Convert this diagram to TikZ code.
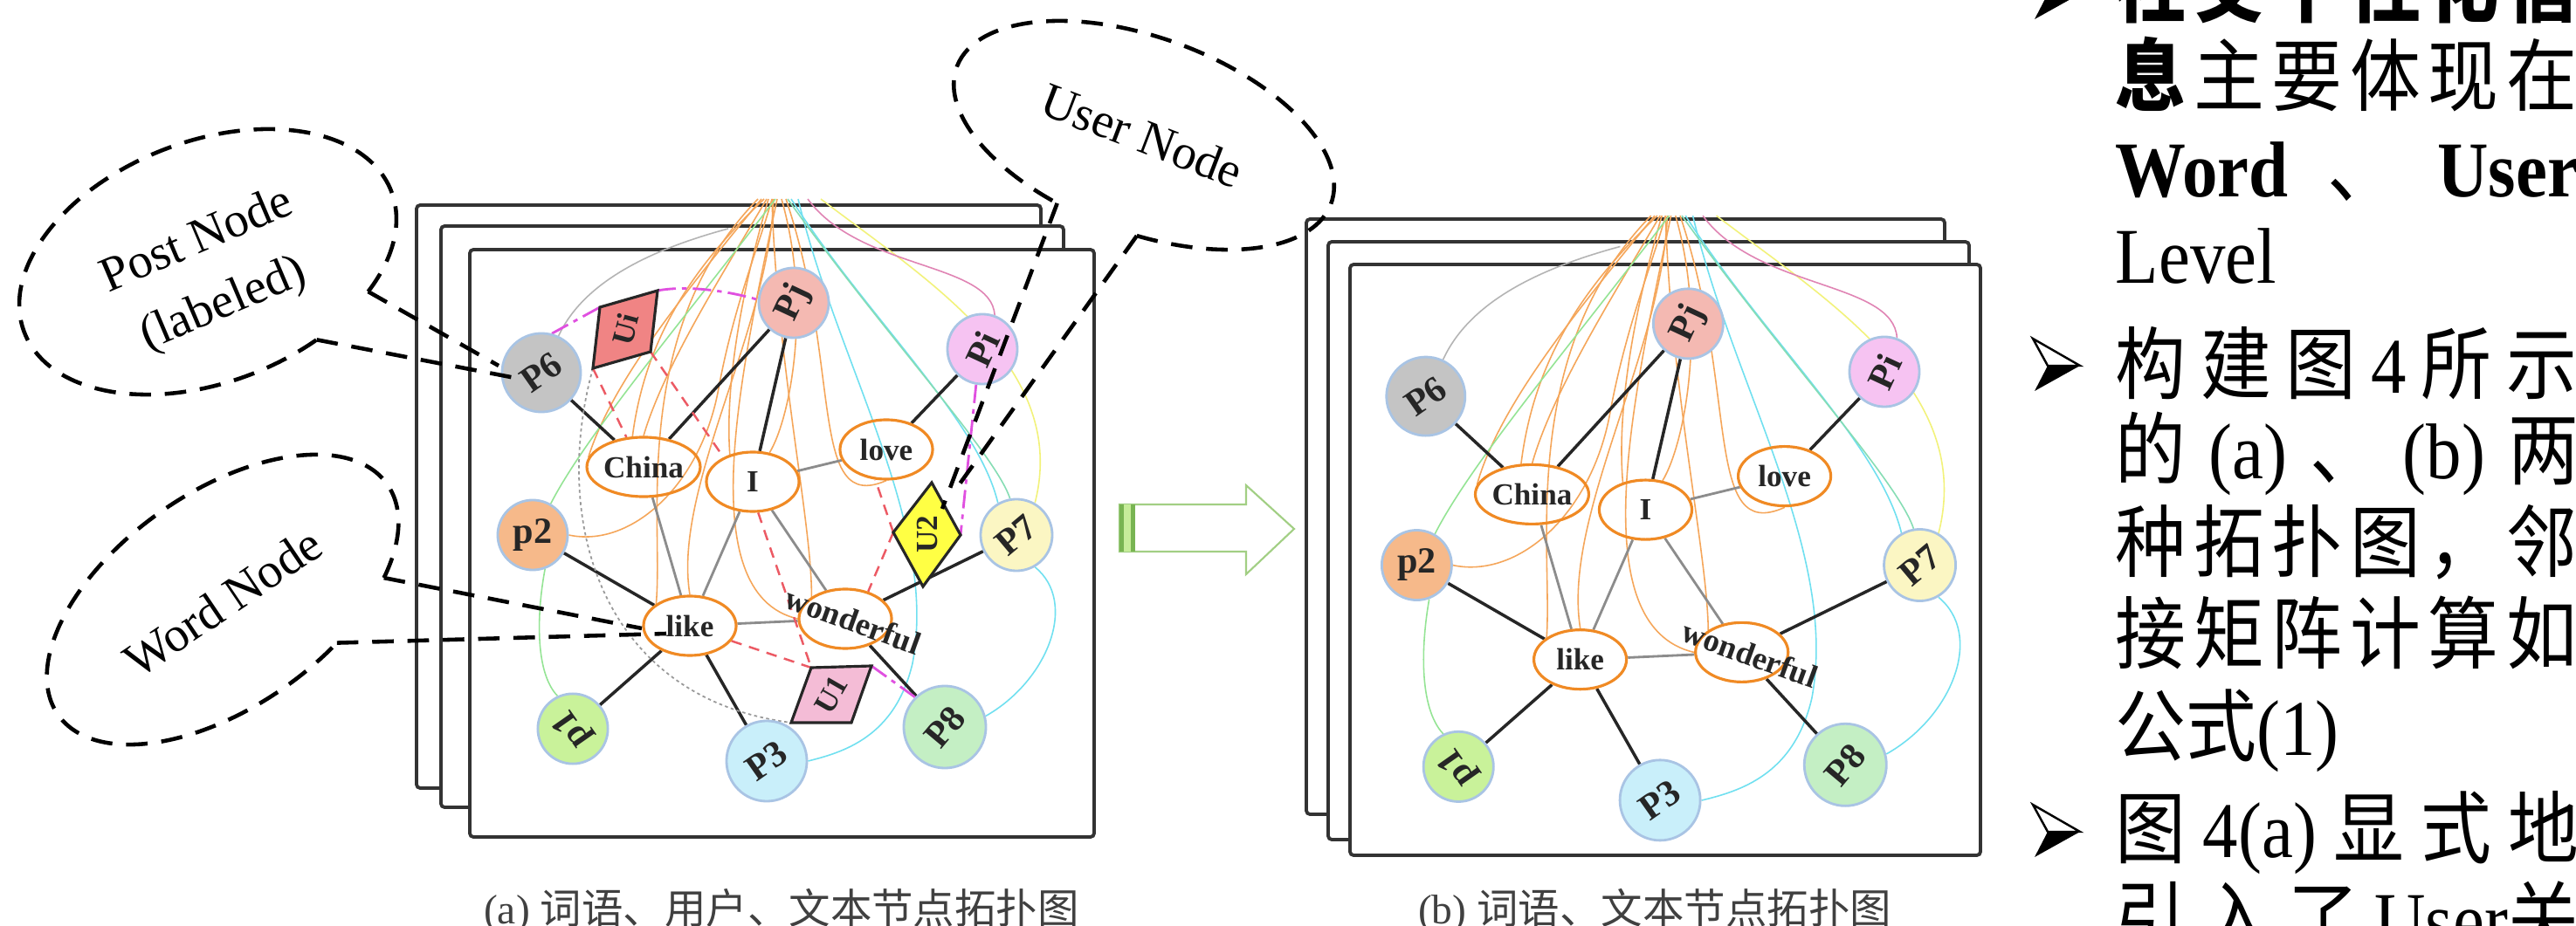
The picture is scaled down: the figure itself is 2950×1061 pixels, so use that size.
\documentclass[tikz,border=0pt]{standalone}
\usepackage{fontspec}
\usepackage{graphicx}
\setmainfont{Liberation Serif}
\newfontfamily\cjk{Noto Sans CJK SC}
\usetikzlibrary{shapes.geometric,calc}
\pgfdeclarelayer{bg}
\pgfsetlayers{bg,main}
\definecolor{cPsix}{HTML}{C4C4C4}
\definecolor{cPj}{HTML}{F4B9B2}
\definecolor{cPi}{HTML}{F6C3F2}
\definecolor{cPtwo}{HTML}{F6B98A}
\definecolor{cPseven}{HTML}{FBF6C3}
\definecolor{cPone}{HTML}{C9F29A}
\definecolor{cPthree}{HTML}{C9EFFA}
\definecolor{cPeight}{HTML}{C4EFC4}
\definecolor{cUi}{HTML}{F08484}
\definecolor{cUtwo}{HTML}{FFFF44}
\definecolor{cUone}{HTML}{F4BCD6}
\definecolor{colBlue}{HTML}{A9C4E4}
\definecolor{colWord}{HTML}{F08A24}
\definecolor{colOrange}{HTML}{F5A65A}
\definecolor{colGreen}{HTML}{94E494}
\definecolor{colCyan}{HTML}{70E0F0}
\definecolor{colTeal}{HTML}{86DDB4}
\definecolor{colYellow}{HTML}{F2F27A}
\definecolor{colPink}{HTML}{E084B4}
\definecolor{colGray}{HTML}{B4B4B4}
\definecolor{colRed}{HTML}{EC5A64}
\definecolor{colMag}{HTML}{E050E0}
\definecolor{colArrowDark}{HTML}{78B452}
\definecolor{colArrowLight}{HTML}{C6EC9A}
\definecolor{colArrowLine}{HTML}{A2CF84}
\tikzset{
 panelframe/.style={draw=black!80, line width=1.1pt, fill=white, rounded corners=1.2pt},
 pnode/.style={circle, draw=colBlue, line width=0.8pt, inner sep=0pt, text=black!85,
   font=\fontsize{12}{12}\selectfont\bfseries},
 wnode/.style={ellipse, draw=colWord, line width=0.9pt, inner sep=0pt,
   minimum width=1.06cm, minimum height=0.68cm, text=black!85,
   font=\fontsize{10}{10}\selectfont\bfseries},
 wlabel/.style={inner sep=0pt, text=black!85, font=\fontsize{10.5}{10.5}\selectfont\bfseries},
 ulabel/.style={inner sep=0pt, text=black!85, font=\fontsize{10}{10}\selectfont\bfseries},
 ushape/.style={draw=black!85, line width=0.9pt},
 blackedge/.style={line width=1pt, draw=black!85},
 grayedge/.style={line width=0.8pt, draw=black!45},
 orangecurve/.style={line width=0.45pt, draw=colOrange},
 greencurve/.style={line width=0.45pt, draw=colGreen},
 cyancurve/.style={line width=0.45pt, draw=colCyan},
 tealcurve/.style={line width=0.45pt, draw=colTeal},
 yellowcurve/.style={line width=0.45pt, draw=colYellow},
 pinkcurve/.style={line width=0.45pt, draw=colPink},
 graycurve/.style={line width=0.45pt, draw=colGray},
 reddashed/.style={line width=0.7pt, draw=colRed, dash pattern=on 3.5pt off 2.5pt},
 magdashdot/.style={line width=0.8pt, draw=colMag, dash pattern=on 6pt off 2pt on 1.5pt off 2pt},
 graydotted/.style={line width=0.5pt, draw=black!40, dash pattern=on 1pt off 1pt},
 calloutline/.style={line width=1.3pt, draw=black, dash pattern=on 7pt off 4.5pt},
 ctext/.style={inner sep=0pt, font=\fontsize{16}{16}\selectfont},
 rtext/.style={anchor=base west, inner sep=0pt, font=\fontsize{23}{23}\selectfont},
 captext/.style={anchor=base, inner sep=0pt, text=black!75, font=\fontsize{13.5}{13.5}\selectfont},
}
\newcommand{\tallrow}[1]{\scalebox{1}[1.12]{#1}}
\newcommand{\arrowbullet}[2]{%
 \begin{scope}[shift={(#1,#2)}]
  \draw[line width=0.7pt, fill=white, line join=miter] (0,0) -- (54,31) -- (17,31) -- cycle;
  \fill[black] (17,31) -- (54,31) -- (2,60) -- cycle;
 \end{scope}}
\newcommand{\graphcommon}[1]{%
 \node[pnode, fill=cPsix, minimum size=0.9cm] (#1P6) at (620,427) {\rotatebox{35}{P6}};
 \node[pnode, fill=cPj, minimum size=0.8cm] (#1Pj) at (909,347) {\rotatebox{65}{Pj}};
 \node[pnode, fill=cPi, minimum size=0.8cm] (#1Pi) at (1125,400) {\rotatebox{65}{Pi}};
 \node[pnode, fill=cPtwo, minimum size=0.8cm] (#1p2) at (610,613) {p2};
 \node[pnode, fill=cPseven, minimum size=0.82cm] (#1P7) at (1164,613) {\rotatebox{40}{P7}};
 \node[pnode, fill=cPone, minimum size=0.78cm] (#1p1) at (656,835) {\rotatebox{125}{p1}};
 \node[pnode, fill=cPthree, minimum size=0.92cm] (#1P3) at (878,872) {\rotatebox{35}{P3}};
 \node[pnode, fill=cPeight, minimum size=0.94cm] (#1P8) at (1082,833) {\rotatebox{50}{P8}};
 \node[wnode] (#1China) at (737,535) {China};
 \node[wnode] (#1I) at (862,552) {I};
 \node[wnode] (#1love) at (1015,515) {love};
 \node[wnode] (#1like) at (790,717) {like};
 \node[wnode] (#1wonderful) at (968,709) {};
 \node[wlabel, rotate=-20] (#1wlabel) at (977,711) {wonderful};
 \begin{pgfonlayer}{bg}
  \draw[graycurve] (834,262) .. controls (730,290) and (665,330) .. (#1P6.65);
  \draw[orangecurve] (872,228) .. controls (780,340) and (700,440) .. (#1China.170);
  \draw[orangecurve] (#1p2.east) .. controls (720,628) and (800,560) .. (822,450) .. controls (840,350) and (870,280) .. (884,228);
  \draw[orangecurve] (878,228) .. controls (830,310) and (760,420) .. (#1China.north);
  \draw[orangecurve] (880,228) .. controls (850,330) and (830,440) .. (#1I.130);
  \draw[orangecurve] (886,228) .. controls (880,380) and (770,560) .. (#1like.north);
  \draw[orangecurve] (890,228) .. controls (850,420) and (790,680) .. (#1wonderful.west);
  \draw[orangecurve] (895,228) .. controls (930,350) and (905,480) .. (#1I.60);
  \draw[orangecurve] (900,228) .. controls (965,420) and (925,590) .. (#1love.south);
  \draw[orangecurve] (884,228) .. controls (890,420) and (930,600) .. (#1wonderful.north west);
  \draw[orangecurve] (868,228) .. controls (720,380) and (760,600) .. (#1like.north west);
  \draw[orangecurve] (875,228) .. controls (800,300) and (740,380) .. (#1China.110);
  \draw[greencurve] (888,228) .. controls (780,370) and (670,500) .. (#1p2.60);
  \draw[greencurve] (#1p2.-70) .. controls (615,700) and (612,770) .. (#1p1.115);
  \draw[cyancurve] (914,228) .. controls (960,420) and (1075,600) .. (1045,760) .. controls (1025,845) and (965,862) .. (#1P3.east);
  \draw[cyancurve] (906,228) .. controls (990,360) and (1120,480) .. (#1P7.120);
  \draw[cyancurve] (#1P8.15) .. controls (1200,780) and (1235,690) .. (#1P7.-60);
  \draw[tealcurve] (902,228) .. controls (1010,380) and (1140,520) .. (#1P7.100);
  \draw[yellowcurve] (940,228) .. controls (1060,320) and (1225,420) .. (#1P7.60);
  \draw[pinkcurve] (925,228) .. controls (985,310) and (1135,300) .. (#1Pi.70);
  \draw[blackedge] (#1P6) -- (#1China);
  \draw[blackedge] (#1Pj) -- (#1China);
  \draw[blackedge] (#1Pj) -- (#1I);
  \draw[blackedge] (#1Pi) -- (#1love);
  \draw[blackedge] (#1p2) -- (#1like);
  \draw[blackedge] (#1like) -- (#1p1);
  \draw[blackedge] (#1like) -- (#1P3);
  \draw[blackedge] (#1wonderful) -- (#1P7);
  \draw[blackedge] (#1wonderful) -- (#1P8);
  \draw[grayedge] (#1China) -- (#1like);
  \draw[grayedge] (#1I) -- (#1like);
  \draw[grayedge] (#1I) -- (#1wonderful);
  \draw[grayedge] (#1I) -- (#1love);
  \draw[grayedge] (#1like) -- (#1wonderful);
 \end{pgfonlayer}
}
\begin{document}
\begin{tikzpicture}[x=0.01cm,y=-0.01cm]
\useasboundingbox (0,0) rectangle (2950,1061);
\begin{pgfonlayer}{bg}
 \fill[white] (0,0) rectangle (2950,1061);
 % frames (a)
 \draw[panelframe] (477,235) rectangle (1192,903);
 \draw[panelframe] (505,259) rectangle (1218,925);
 \draw[panelframe] (538,286) rectangle (1253,959);
 % frames (b)
 \draw[panelframe] (1496,251) rectangle (2227,933);
 \draw[panelframe] (1521,277) rectangle (2255,962);
 \draw[panelframe] (1546,303) rectangle (2268,980);
\end{pgfonlayer}

% ---------- panel (a)
\graphcommon{a}
\coordinate (ui1) at (687,352);
\coordinate (ui2) at (753,333);
\coordinate (ui3) at (745,403);
\coordinate (ui4) at (679,422);
\coordinate (u2t) at (1067,553);
\coordinate (u2r) at (1100,613);
\coordinate (u2b) at (1057,672);
\coordinate (u2l) at (1023,610);
\coordinate (u1a) at (929,765);
\coordinate (u1b) at (998,763);
\coordinate (u1c) at (975,828);
\coordinate (u1d) at (906,828);
\draw[ushape, fill=cUi] (ui1) -- (ui2) -- (ui3) -- (ui4) -- cycle;
\draw[ushape, fill=cUtwo] (u2t) -- (u2r) -- (u2b) -- (u2l) -- cycle;
\draw[ushape, fill=cUone] (u1a) -- (u1b) -- (u1c) -- (u1d) -- cycle;
\node[ulabel] (uilab) at (716,377) {\rotatebox{75}{Ui}};
\node[ulabel] (u2lab) at (1062,612) {\rotatebox{90}{U2}};
\node[ulabel] (u1lab) at (952,796) {\rotatebox{60}{U1}};
\begin{pgfonlayer}{bg}
 \draw[graydotted] (ui4) .. controls (630,600) and (690,800) .. (u1d);
 \draw[reddashed] (ui4) -- (aChina.120);
 \draw[reddashed] (ui3) -- (aI.140);
 \draw[reddashed] (aI.-80) -- (u1a);
 \draw[reddashed] (alike.-20) -- (u1a);
 \draw[reddashed] (u2l) -- (alove.-110);
 \draw[reddashed] (u2l) -- (awonderful.50);
 \draw[magdashdot] (aP6.75) -- (ui1);
 \draw[magdashdot] (ui2) .. controls (790,326) and (840,335) .. (aPj.175);
 \draw[magdashdot] (aPi.-100) -- (u2r);
 \draw[magdashdot] (u1b) -- (aP8.135);
\end{pgfonlayer}

% ---------- panel (b)
\begin{scope}[shift={(988,10)}, scale=1.04]
 \graphcommon{b}
\end{scope}

% ---------- callouts
\coordinate (p6tipA) at (571,419);
\coordinate (p6tipB) at (590,433);
\coordinate (liketipA) at (735,720);
\coordinate (liketipB) at (763,726);
\coordinate (u2tipA) at (1079,583);
\coordinate (u2tipB) at (1095,560);
\begin{scope}[shift={(238,300)}, rotate=21]
 \draw[calloutline] (-45:2.25cm and 1.38cm) arc[start angle=-45, end angle=292, x radius=2.25cm, y radius=1.38cm];
 \coordinate (postA) at (-45:2.25cm and 1.38cm);
 \coordinate (postB) at (292:2.25cm and 1.38cm);
\end{scope}
\draw[calloutline] (postA) -- (p6tipA);
\draw[calloutline] (postB) -- (p6tipB);
\node[ctext, rotate=23] (posttxt) at (224,272) {Post Node};
\node[ctext, rotate=23] (labtxt) at (256,350) {(labeled)};

\begin{scope}[shift={(255,687)}, rotate=35]
 \draw[calloutline] (-44:2.3cm and 1.23cm) arc[start angle=-44, end angle=290, x radius=2.3cm, y radius=1.23cm];
 \coordinate (wordA) at (-44:2.3cm and 1.23cm);
 \coordinate (wordB) at (290:2.3cm and 1.23cm);
\end{scope}
\draw[calloutline] (wordA) -- (liketipA);
\draw[calloutline] (wordB) -- (liketipB);
\node[ctext, rotate=34] (wordtxt) at (255,690) {Word Node};

\begin{scope}[shift={(1310,155)}, rotate=-20]
 \draw[calloutline] (278:2.28cm and 1.12cm) arc[start angle=278, end angle=613, x radius=2.28cm, y radius=1.12cm];
 \coordinate (userA) at (253:2.28cm and 1.12cm);
 \coordinate (userB) at (278:2.28cm and 1.12cm);
\end{scope}
\draw[calloutline] (userA) -- (u2tipA);
\draw[calloutline] (userB) -- (u2tipB);
\node[ctext, rotate=-21] (usertxt) at (1308,155) {User Node};

% ---------- green arrow
\draw[colArrowLine, line width=0.6pt, fill=white] (1282,578) -- (1427,578) -- (1427,556) -- (1482,606) -- (1427,658) -- (1427,632) -- (1282,632) -- cycle;
\fill[colArrowDark] (1282,578) rectangle (1287,632);
\fill[colArrowLight] (1287,578) rectangle (1295,632);
\fill[colArrowDark] (1295,578) rectangle (1300,632);

% ---------- captions
\node[captext] (capa) at (895,1058) {(a)\ {\cjk 词语、用户、文本节点拓扑图}};
\node[captext] (capb) at (1895,1058) {(b)\ {\cjk 词语、文本节点拓扑图}};

% ---------- right text
\arrowbullet{2328}{-38}
\arrowbullet{2328}{388}
\arrowbullet{2328}{922}
\node[rtext] (r1) at (2422,19) {\tallrow{\makebox[5.28cm][s]{\cjk\bfseries 社\hfill 交\hfill 个\hfill 性\hfill 化\hfill 信}}};
\node[rtext] (r2) at (2422,121) {\tallrow{\makebox[5.28cm][s]{\cjk{\bfseries 息}\hfill 主\hfill 要\hfill 体\hfill 现\hfill 在}}};
\node[rtext] (r3) at (2422,226) {\tallrow{\makebox[5.3cm][s]{\bfseries Word\hfill{\cjk\mdseries 、}\hfill User}}};
\node[rtext] (r4) at (2422,325) {\tallrow{Level}};
\node[rtext] (r5) at (2422,451) {\tallrow{\makebox[5.28cm][s]{\cjk 构\hfill 建\hfill 图\hfill{\rmfamily 4}\hfill 所\hfill 示}}};
\node[rtext] (r6) at (2422,549) {\tallrow{\makebox[5.3cm][s]{{\cjk 的}\hfill (a)\hfill{\cjk 、}\hfill (b)\hfill{\cjk 两}}}};
\node[rtext] (r7) at (2422,655) {\tallrow{\makebox[5.28cm][s]{\cjk 种\hfill 拓\hfill 扑\hfill 图\hfill ，\hfill 邻}}};
\node[rtext] (r8) at (2422,760) {\tallrow{\makebox[5.28cm][s]{\cjk 接\hfill 矩\hfill 阵\hfill 计\hfill 算\hfill 如}}};
\node[rtext] (r9) at (2422,865) {\tallrow{{\cjk 公式}(1)}};
\node[rtext] (r10) at (2422,982) {\tallrow{\makebox[5.3cm][s]{{\cjk 图}\hfill 4(a)\hfill{\cjk 显}\hfill{\cjk 式}\hfill{\cjk 地}}}};
\node[rtext] (r11) at (2422,1085) {\tallrow{\makebox[5.3cm][s]{{\cjk 引}\hfill{\cjk 入}\hfill{\cjk 了}\hfill User{\cjk 关}}}};
\end{tikzpicture}
\end{document}
